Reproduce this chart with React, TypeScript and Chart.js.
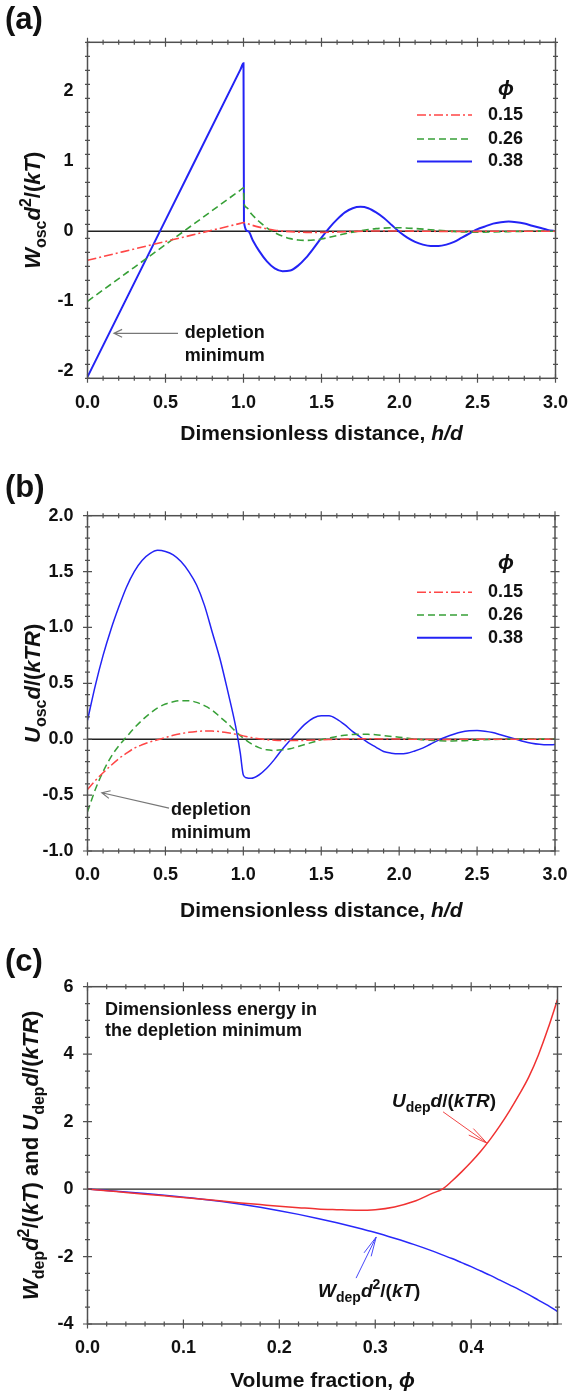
import React, { useEffect, useRef } from "react";
import { Chart, registerables } from "chart.js";

Chart.register(...registerables);

// ---------------- Panel (a): W_osc d^2/(kT) vs h/d ----------------
const hA_015 = [0, 0.5, 0.98, 1.0, 1.05, 1.1, 1.15, 1.2, 1.3, 1.4, 1.5, 1.6, 1.7, 1.8, 1.9, 2.0, 2.2, 2.4, 2.6, 2.8, 3.0];
const wA_015 = [-0.414, -0.145, 0.113, 0.124, 0.09, 0.06, 0.035, 0.015, -0.005, -0.015, -0.015, -0.01, -0.003, 0.003, 0.005, 0.004, 0.0, -0.002, 0.0, 0.0, 0.0];

const hA_026 = [0, 0.5, 0.98, 1.0, 1.003, 1.02, 1.05, 1.1, 1.15, 1.2, 1.25, 1.3, 1.35, 1.4, 1.45, 1.5, 1.55, 1.6, 1.65, 1.7, 1.75, 1.8, 1.85, 1.9, 1.95, 2.0, 2.1, 2.2, 2.3, 2.4, 2.5, 2.6, 2.7, 2.8, 2.9, 3.0];
const wA_026 = [-1.0, -0.19, 0.588, 0.62, 0.4, 0.34, 0.25, 0.14, 0.05, -0.02, -0.07, -0.105, -0.125, -0.13, -0.125, -0.11, -0.085, -0.06, -0.035, -0.012, 0.008, 0.025, 0.038, 0.046, 0.05, 0.05, 0.04, 0.022, 0.005, -0.008, -0.013, -0.01, -0.004, 0.0, 0.002, 0.001];

const hA_038 = [0, 0.5, 0.98, 1.0, 1.003, 1.03, 1.06, 1.1, 1.15, 1.2, 1.25, 1.3, 1.35, 1.4, 1.45, 1.5, 1.55, 1.6, 1.65, 1.7, 1.75, 1.8, 1.85, 1.9, 1.95, 2.0, 2.05, 2.1, 2.15, 2.2, 2.25, 2.3, 2.35, 2.4, 2.45, 2.5, 2.55, 2.6, 2.65, 2.7, 2.75, 2.8, 2.85, 2.9, 2.95, 3.0];
const wA_038 = [-2.08, 0.16, 2.31, 2.4, 0.13, 0.0, -0.13, -0.28, -0.43, -0.53, -0.57, -0.56, -0.49, -0.38, -0.24, -0.09, 0.05, 0.17, 0.27, 0.33, 0.35, 0.33, 0.27, 0.19, 0.09, -0.01, -0.09, -0.15, -0.19, -0.21, -0.21, -0.19, -0.15, -0.09, -0.03, 0.03, 0.07, 0.11, 0.13, 0.14, 0.13, 0.11, 0.08, 0.05, 0.02, 0.0];

// ---------------- Panel (b): U_osc d/(kTR) vs h/d ----------------
const hB_015 = [0, 0.05, 0.1, 0.15, 0.2, 0.25, 0.3, 0.35, 0.4, 0.45, 0.5, 0.55, 0.6, 0.65, 0.7, 0.75, 0.8, 0.85, 0.9, 0.95, 1.0, 1.05, 1.1, 1.15, 1.2, 1.3, 1.4, 1.5, 1.6, 1.7, 1.8, 1.9, 2.0, 2.2, 2.4, 2.6, 3.0];
const uB_015 = [-0.45, -0.37, -0.3, -0.235, -0.175, -0.125, -0.08, -0.05, -0.025, -0.005, 0.015, 0.035, 0.05, 0.062, 0.07, 0.074, 0.073, 0.068, 0.058, 0.045, 0.03, 0.015, 0.004, -0.004, -0.009, -0.012, -0.01, -0.006, 0.0, 0.003, 0.004, 0.003, 0.001, -0.002, -0.001, 0.0, 0.0];

const hB_026 = [0, 0.05, 0.1, 0.15, 0.2, 0.25, 0.3, 0.35, 0.4, 0.45, 0.5, 0.55, 0.6, 0.65, 0.7, 0.75, 0.8, 0.85, 0.9, 0.95, 1.0, 1.05, 1.1, 1.15, 1.2, 1.25, 1.3, 1.35, 1.4, 1.45, 1.5, 1.55, 1.6, 1.65, 1.7, 1.75, 1.8, 1.85, 1.9, 2.0, 2.1, 2.2, 2.3, 2.4, 2.5, 2.6, 2.7, 2.8, 2.9, 3.0];
const uB_026 = [-0.65, -0.45, -0.29, -0.16, -0.06, 0.02, 0.1, 0.17, 0.23, 0.28, 0.315, 0.335, 0.345, 0.345, 0.33, 0.3, 0.26, 0.2, 0.14, 0.07, 0.01, -0.04, -0.075, -0.095, -0.1, -0.095, -0.085, -0.065, -0.045, -0.025, -0.005, 0.01, 0.025, 0.035, 0.042, 0.045, 0.044, 0.04, 0.033, 0.018, 0.002, -0.01, -0.015, -0.014, -0.008, -0.002, 0.002, 0.004, 0.003, 0.002];

const hB_038 = [0, 0.05, 0.1, 0.15, 0.2, 0.25, 0.3, 0.35, 0.4, 0.45, 0.5, 0.55, 0.6, 0.65, 0.7, 0.75, 0.8, 0.85, 0.9, 0.95, 0.98, 1.0, 1.02, 1.05, 1.1, 1.15, 1.2, 1.25, 1.3, 1.35, 1.4, 1.45, 1.5, 1.55, 1.6, 1.65, 1.7, 1.75, 1.8, 1.85, 1.9, 1.95, 2.0, 2.05, 2.1, 2.15, 2.2, 2.25, 2.3, 2.35, 2.4, 2.45, 2.5, 2.55, 2.6, 2.65, 2.7, 2.75, 2.8, 2.85, 2.9, 2.95, 3.0];
const uB_038 = [0.17, 0.48, 0.75, 0.98, 1.18, 1.36, 1.5, 1.6, 1.66, 1.69, 1.68, 1.65, 1.59, 1.5, 1.38, 1.2, 0.96, 0.72, 0.43, 0.12, -0.12, -0.32, -0.345, -0.35, -0.32, -0.26, -0.18, -0.09, -0.01, 0.07, 0.14, 0.19, 0.21, 0.21, 0.18, 0.13, 0.07, 0.02, -0.03, -0.07, -0.11, -0.125, -0.13, -0.125, -0.105, -0.08, -0.045, -0.01, 0.02, 0.045, 0.065, 0.075, 0.078, 0.072, 0.06, 0.04, 0.02, 0.0, -0.02, -0.035, -0.045, -0.05, -0.048];

// ---------------- Panel (c): energies in the depletion minimum vs phi ----------------
const phiC = [0, 0.02, 0.04, 0.06, 0.08, 0.1, 0.12, 0.14, 0.16, 0.18, 0.2, 0.22, 0.24, 0.26, 0.28, 0.3, 0.32, 0.34, 0.36, 0.37, 0.38, 0.39, 0.4, 0.41, 0.42, 0.43, 0.44, 0.45, 0.46, 0.47, 0.48, 0.49];
const uDep = [0, -0.05, -0.1, -0.15, -0.2, -0.25, -0.3, -0.35, -0.41, -0.46, -0.51, -0.55, -0.59, -0.61, -0.625, -0.61, -0.53, -0.37, -0.12, 0.0, 0.24, 0.51, 0.8, 1.12, 1.48, 1.88, 2.32, 2.8, 3.32, 3.97, 4.75, 5.62];
const wDep = [0, -0.04, -0.085, -0.13, -0.18, -0.24, -0.3, -0.37, -0.45, -0.54, -0.64, -0.75, -0.87, -1.0, -1.14, -1.29, -1.46, -1.64, -1.84, -1.95, -2.06, -2.18, -2.3, -2.43, -2.56, -2.7, -2.84, -2.98, -3.13, -3.29, -3.45, -3.63];

// ---------------- Ticks ----------------
const xTicksAB = [0, 0.5, 1, 1.5, 2, 2.5, 3];
const xTickLabelsAB = ["0.0", "0.5", "1.0", "1.5", "2.0", "2.5", "3.0"];
const yTicksA = [-2, -1, 0, 1, 2];
const yTickLabelsA = ["-2", "-1", "0", "1", "2"];
const yTicksB = [-1, -0.5, 0, 0.5, 1, 1.5, 2];
const yTickLabelsB = ["-1.0", "-0.5", "0.0", "0.5", "1.0", "1.5", "2.0"];
const xTicksC = [0, 0.1, 0.2, 0.3, 0.4];
const xTickLabelsC = ["0.0", "0.1", "0.2", "0.3", "0.4"];
const yTicksC = [-4, -2, 0, 2, 4, 6];
const yTickLabelsC = ["-4", "-2", "0", "2", "4", "6"];
const phiLegend = ["0.15", "0.26", "0.38"];

// ---------------- Styles ----------------
const FONT = '"Liberation Sans", Arial, Helvetica, sans-serif';
const RED = "rgb(255,70,70)";
const GREEN = "rgb(55,160,55)";
const BLUE = "rgb(35,35,245)";
const DASH_RED = [9, 3, 2, 3];
const DASH_GREEN = [7, 4];
const W = 570;

type Seg = { t: string; i?: boolean; s?: "sub" | "sup" };

function segFont(size: number, g: Seg) {
  const sz = g.s ? Math.round(size * 0.72) : size;
  return `${g.i ? "italic " : ""}bold ${sz}px ${FONT}`;
}

function drawRich(ctx: CanvasRenderingContext2D, segs: Seg[], x: number, y: number, size: number, align: "left" | "center", color: string, rot = 0) {
  ctx.save();
  ctx.translate(x, y);
  if (rot) ctx.rotate(rot);
  let w = 0;
  for (const g of segs) {
    ctx.font = segFont(size, g);
    w += ctx.measureText(g.t).width;
  }
  let cx = align === "center" ? -w / 2 : 0;
  ctx.fillStyle = color;
  ctx.textAlign = "left";
  ctx.textBaseline = "alphabetic";
  for (const g of segs) {
    ctx.font = segFont(size, g);
    const dy = g.s === "sub" ? size * 0.28 : g.s === "sup" ? -size * 0.42 : 0;
    ctx.fillText(g.t, cx, dy);
    cx += ctx.measureText(g.t).width;
  }
  ctx.restore();
}

function drawArrow(ctx: CanvasRenderingContext2D, x1: number, y1: number, x2: number, y2: number, color: string, lw: number, head: number, ang: number) {
  const a = Math.atan2(y2 - y1, x2 - x1);
  ctx.save();
  ctx.strokeStyle = color;
  ctx.lineWidth = lw;
  ctx.setLineDash([]);
  ctx.beginPath();
  ctx.moveTo(x1, y1);
  ctx.lineTo(x2, y2);
  ctx.moveTo(x2 - head * Math.cos(a - ang), y2 - head * Math.sin(a - ang));
  ctx.lineTo(x2, y2);
  ctx.lineTo(x2 - head * Math.cos(a + ang), y2 - head * Math.sin(a + ang));
  ctx.stroke();
  ctx.restore();
}

function text(ctx: CanvasRenderingContext2D, s: string, x: number, y: number, size: number, opts: { italic?: boolean; align?: CanvasTextAlign; baseline?: CanvasTextBaseline; color?: string } = {}) {
  ctx.save();
  ctx.font = `${opts.italic ? "italic " : ""}bold ${size}px ${FONT}`;
  ctx.fillStyle = opts.color || "#111";
  ctx.textAlign = opts.align || "left";
  ctx.textBaseline = opts.baseline || "alphabetic";
  ctx.fillText(s, x, y);
  ctx.restore();
}

function legendLine(ctx: CanvasRenderingContext2D, x1: number, x2: number, y: number, color: string, dash: number[], lw: number) {
  ctx.save();
  ctx.strokeStyle = color;
  ctx.lineWidth = lw;
  ctx.setLineDash(dash);
  ctx.beginPath();
  ctx.moveTo(x1, y);
  ctx.lineTo(x2, y);
  ctx.stroke();
  ctx.restore();
}

type Area = { left: number; right: number; top: number; bottom: number };
type Deco = (ctx: CanvasRenderingContext2D, px: (v: number) => number, py: (v: number) => number, area: Area) => void;

interface PanelSpec {
  id: string;
  height: number;
  area: Area;
  xMin: number; xMax: number; yMin: number; yMax: number;
  xTicks: number[]; xLabels: string[]; xMinor: number;
  yTicks: number[]; yLabels: string[]; yMinor: number;
  xPad: number; yPad: number;
  datasets: any[];
  decorate: Deco;
}

function series(xs: number[], ys: number[], color: string, dash: number[], lw: number) {
  return {
    data: xs.map((x, i) => ({ x, y: ys[i] })),
    borderColor: color,
    borderWidth: lw,
    borderDash: dash,
    fill: false,
    pointRadius: 0,
    cubicInterpolationMode: "monotone",
  };
}

function buildConfig(spec: PanelSpec): any {
  const lab = (ticks: number[], labels: string[]) => (v: number) => {
    const k = ticks.findIndex((t) => Math.abs(t - v) < 1e-9);
    return k >= 0 ? labels[k] : "";
  };
  const plugin = {
    id: "frame_" + spec.id,
    beforeDatasetsDraw(chart: any) {
      const ctx = chart.ctx as CanvasRenderingContext2D;
      const a = chart.chartArea;
      const y0 = chart.scales.y.getPixelForValue(0);
      ctx.save();
      ctx.strokeStyle = "#222";
      ctx.lineWidth = 1.4;
      ctx.beginPath();
      ctx.moveTo(a.left, y0);
      ctx.lineTo(a.right, y0);
      ctx.stroke();
      ctx.restore();
    },
    afterDraw(chart: any) {
      const ctx = chart.ctx as CanvasRenderingContext2D;
      const a = chart.chartArea;
      const xs = chart.scales.x;
      const ys = chart.scales.y;
      ctx.save();
      ctx.strokeStyle = "#505050";
      ctx.lineWidth = 1.5;
      ctx.setLineDash([]);
      ctx.strokeRect(a.left, a.top, a.right - a.left, a.bottom - a.top);
      // ticks on all four sides
      ctx.lineWidth = 1.2;
      ctx.beginPath();
      const nx = Math.floor((spec.xMax - spec.xMin) / spec.xMinor + 1e-6);
      for (let k = 0; k <= nx; k++) {
        const v = spec.xMin + k * spec.xMinor;
        const major = spec.xTicks.some((t) => Math.abs(t - v) < 1e-9);
        const len = major ? 4.5 : 2.5;
        const p = xs.getPixelForValue(v);
        ctx.moveTo(p, a.bottom - len); ctx.lineTo(p, a.bottom + len);
        ctx.moveTo(p, a.top - len); ctx.lineTo(p, a.top + len);
      }
      const ny = Math.floor((spec.yMax - spec.yMin) / spec.yMinor + 1e-6);
      for (let k = 0; k <= ny; k++) {
        const v = spec.yMin + k * spec.yMinor;
        const major = spec.yTicks.some((t) => Math.abs(t - v) < 1e-9);
        const len = major ? 4.5 : 2.5;
        const p = ys.getPixelForValue(v);
        ctx.moveTo(a.left - len, p); ctx.lineTo(a.left + len, p);
        ctx.moveTo(a.right - len, p); ctx.lineTo(a.right + len, p);
      }
      ctx.stroke();
      ctx.restore();
      spec.decorate(ctx, (v) => xs.getPixelForValue(v), (v) => ys.getPixelForValue(v), a);
    },
  };
  const tickFont = { family: FONT, size: 18, weight: "bold" };
  return {
    type: "line",
    data: { datasets: spec.datasets },
    options: {
      responsive: false,
      maintainAspectRatio: false,
      animation: false,
      devicePixelRatio: 1,
      layout: { padding: { top: spec.area.top, right: W - spec.area.right, left: 0, bottom: 0 } },
      plugins: { legend: { display: false }, tooltip: { enabled: false }, title: { display: false } },
      scales: {
        x: {
          type: "linear",
          min: spec.xMin,
          max: spec.xMax,
          grid: { display: false, drawTicks: false },
          border: { display: false },
          ticks: { autoSkip: false, maxRotation: 0, padding: spec.xPad, font: tickFont, color: "#111", callback: lab(spec.xTicks, spec.xLabels) },
          afterBuildTicks: (s: any) => { s.ticks = spec.xTicks.map((v) => ({ value: v })); },
          afterFit: (s: any) => { s.height = spec.height - spec.area.bottom; s.paddingLeft = 0; s.paddingRight = 0; },
        },
        y: {
          type: "linear",
          min: spec.yMin,
          max: spec.yMax,
          grid: { display: false, drawTicks: false },
          border: { display: false },
          ticks: { autoSkip: false, padding: spec.yPad, font: tickFont, color: "#111", callback: lab(spec.yTicks, spec.yLabels) },
          afterBuildTicks: (s: any) => { s.ticks = spec.yTicks.map((v) => ({ value: v })); },
          afterFit: (s: any) => { s.width = spec.area.left; s.paddingTop = 0; s.paddingBottom = 0; },
        },
      },
    },
    plugins: [plugin],
  };
}

const distTitle: Seg[] = [{ t: "Dimensionless distance, " }, { t: "h/d", i: true }];

function phiLegendDraw(ctx: CanvasRenderingContext2D, phiY: number, rows: number[]) {
  text(ctx, "\u03d5", 506, phiY, 21, { italic: true, align: "center" });
  const styles: [string, number[], number][] = [[RED, DASH_RED, 1.6], [GREEN, DASH_GREEN, 1.6], [BLUE, [], 2]];
  rows.forEach((y, i) => {
    legendLine(ctx, 417, 472, y, styles[i][0], styles[i][1], styles[i][2]);
    text(ctx, phiLegend[i], 488, y, 18, { baseline: "middle" });
  });
}

const specA: PanelSpec = {
  id: "a",
  height: 455,
  area: { left: 87.5, right: 555.5, top: 42.3, bottom: 378.3 },
  xMin: 0, xMax: 3, yMin: -2.1, yMax: 2.7,
  xTicks: xTicksAB, xLabels: xTickLabelsAB, xMinor: 0.1,
  yTicks: yTicksA, yLabels: yTickLabelsA, yMinor: 0.2,
  xPad: 14, yPad: 14,
  datasets: [
    series(hA_015, wA_015, RED, DASH_RED, 1.6),
    series(hA_026, wA_026, GREEN, DASH_GREEN, 1.6),
    series(hA_038, wA_038, BLUE, [], 2),
  ],
  decorate: (ctx, px, py, a) => {
    text(ctx, "(a)", 5, 29, 31);
    drawRich(ctx, distTitle, (a.left + a.right) / 2, 440, 21, "center", "#111");
    drawRich(ctx, [{ t: "W", i: true }, { t: "osc", s: "sub" }, { t: "d", i: true }, { t: "2", s: "sup" }, { t: "/(" }, { t: "kT", i: true }, { t: ")" }], 40, (a.top + a.bottom) / 2, 22, "center", "#111", -Math.PI / 2);
    phiLegendDraw(ctx, 95, [115, 139, 161.5]);
    drawArrow(ctx, px(0.58), py(-1.457), px(0.17), py(-1.457), "#777", 1.2, 9, 0.45);
    text(ctx, "depletion", px(0.623), py(-1.457), 18, { baseline: "middle" });
    text(ctx, "minimum", px(0.623), py(-1.786), 18, { baseline: "middle" });
  },
};

const specB: PanelSpec = {
  id: "b",
  height: 465,
  area: { left: 87.5, right: 555, top: 60.7, bottom: 396 },
  xMin: 0, xMax: 3, yMin: -1, yMax: 2,
  xTicks: xTicksAB, xLabels: xTickLabelsAB, xMinor: 0.1,
  yTicks: yTicksB, yLabels: yTickLabelsB, yMinor: 0.1,
  xPad: 13, yPad: 14,
  datasets: [
    series(hB_015, uB_015, RED, DASH_RED, 1.5),
    series(hB_026, uB_026, GREEN, DASH_GREEN, 1.5),
    series(hB_038, uB_038, BLUE, [], 1.5),
  ],
  decorate: (ctx, px, py, a) => {
    text(ctx, "(b)", 5, 42, 31);
    drawRich(ctx, distTitle, (a.left + a.right) / 2, 462, 21, "center", "#111");
    drawRich(ctx, [{ t: "U", i: true }, { t: "osc", s: "sub" }, { t: "d", i: true }, { t: "/(" }, { t: "kTR", i: true }, { t: ")" }], 40, (a.top + a.bottom) / 2, 22, "center", "#111", -Math.PI / 2);
    phiLegendDraw(ctx, 113.5, [137.3, 160, 182.7]);
    drawArrow(ctx, px(0.523), py(-0.616), px(0.092), py(-0.479), "#777", 1.2, 9, 0.45);
    text(ctx, "depletion", px(0.536), py(-0.634), 18, { baseline: "middle" });
    text(ctx, "minimum", px(0.536), py(-0.837), 18, { baseline: "middle" });
  },
};

const specC: PanelSpec = {
  id: "c",
  height: 476,
  area: { left: 87.5, right: 557.5, top: 66.7, bottom: 404 },
  xMin: 0, xMax: 0.49, yMin: -4, yMax: 6,
  xTicks: xTicksC, xLabels: xTickLabelsC, xMinor: 0.02,
  yTicks: yTicksC, yLabels: yTickLabelsC, yMinor: 0.5,
  xPad: 13, yPad: 14,
  datasets: [
    series(phiC, uDep, "rgb(240,50,50)", [], 1.5),
    series(phiC, wDep, "rgb(40,40,250)", [], 1.5),
  ],
  decorate: (ctx, px, py, a) => {
    text(ctx, "(c)", 5, 51, 31);
    drawRich(ctx, [{ t: "Volume fraction, " }, { t: "\u03d5", i: true }], (a.left + a.right) / 2, 467, 21, "center", "#111");
    drawRich(ctx, [
      { t: "W", i: true }, { t: "dep", s: "sub" }, { t: "d", i: true }, { t: "2", s: "sup" }, { t: "/(" }, { t: "kT", i: true }, { t: ") and " },
      { t: "U", i: true }, { t: "dep", s: "sub" }, { t: "d", i: true }, { t: "/(" }, { t: "kTR", i: true }, { t: ")" },
    ], 38, (a.top + a.bottom) / 2, 22, "center", "#111", -Math.PI / 2);
    text(ctx, "Dimensionless energy in", px(0.0182), py(5.16), 18);
    text(ctx, "the depletion minimum", px(0.0182), py(4.53), 18);
    drawRich(ctx, [{ t: "U", i: true }, { t: "dep", s: "sub" }, { t: "d", i: true }, { t: "/(" }, { t: "kTR", i: true }, { t: ")" }], px(0.3174), py(2.44), 19, "left", "#111");
    drawArrow(ctx, px(0.3707), py(2.29), px(0.4165), py(1.36), "rgb(240,70,70)", 1, 20, 0.2);
    drawRich(ctx, [{ t: "W", i: true }, { t: "dep", s: "sub" }, { t: "d", i: true }, { t: "2", s: "sup" }, { t: "/(" }, { t: "kT", i: true }, { t: ")" }], px(0.2404), py(-3.19), 19, "left", "#111");
    drawArrow(ctx, px(0.28), py(-2.64), px(0.301), py(-1.42), "rgb(70,70,250)", 1, 20, 0.2);
  },
};

function Panel({ spec, top }: { spec: PanelSpec; top: number }) {
  const ref = useRef<HTMLCanvasElement | null>(null);
  useEffect(() => {
    const chart = new Chart(ref.current as HTMLCanvasElement, buildConfig(spec));
    return () => chart.destroy();
  }, [spec]);
  return (
    <canvas
      ref={ref}
      width={W}
      height={spec.height}
      style={{ position: "absolute", left: 0, top, width: W, height: spec.height, display: "block" }}
    />
  );
}

export default function App() {
  useEffect(() => {
    document.body.style.margin = "0";
  }, []);
  return (
    <div style={{ position: "relative", width: W, height: 1396, background: "#fff", overflow: "hidden" }}>
      <Panel spec={specA} top={0} />
      <Panel spec={specB} top={455} />
      <Panel spec={specC} top={920} />
    </div>
  );
}
